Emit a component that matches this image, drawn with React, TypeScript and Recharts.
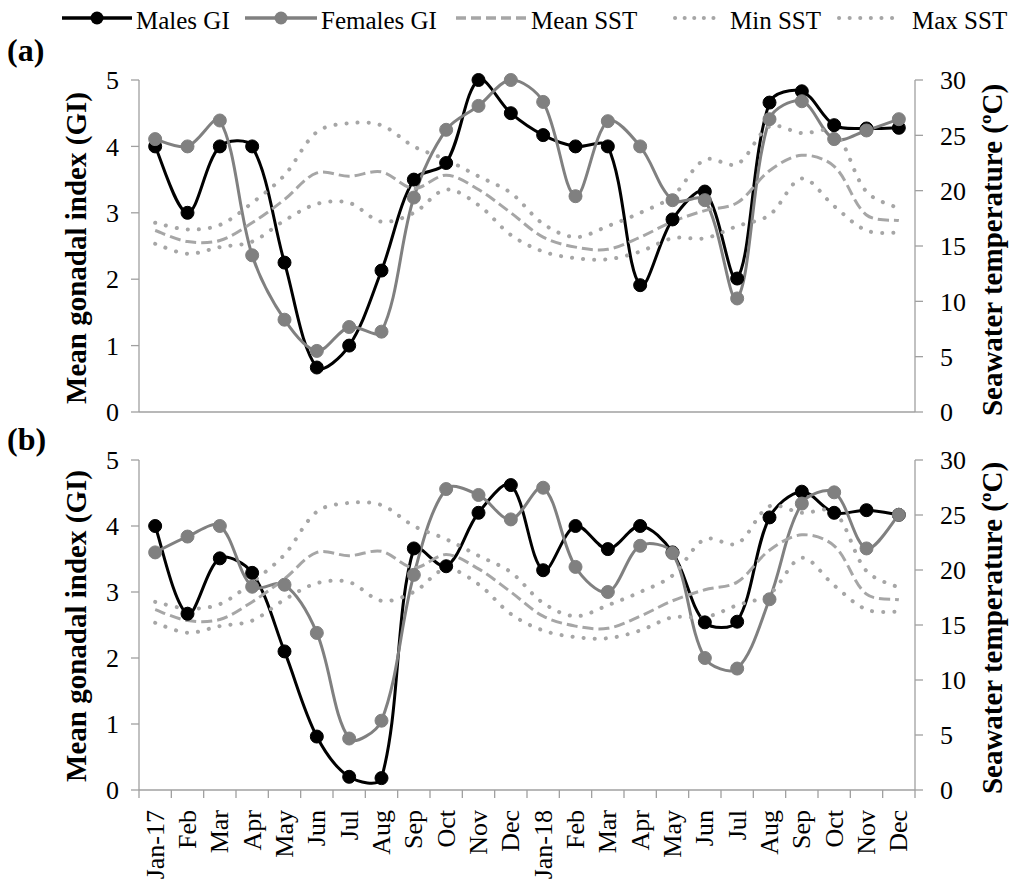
import { LineChart, Line, XAxis, YAxis } from 'recharts'

// month labels, Jan 2017 .. Dec 2018
const months = [
  'Jan-17', 'Feb', 'Mar', 'Apr', 'May', 'Jun', 'Jul', 'Aug', 'Sep', 'Oct', 'Nov', 'Dec',
  'Jan-18', 'Feb', 'Mar', 'Apr', 'May', 'Jun', 'Jul', 'Aug', 'Sep', 'Oct', 'Nov', 'Dec',
]

// panel (a)
const malesA = [4.0, 3.0, 4.0, 4.0, 2.25, 0.67, 1.0, 2.13, 3.5, 3.75, 5.0, 4.5, 4.17, 4.0, 4.0, 1.91, 2.9, 3.32, 2.01, 4.66, 4.83, 4.32, 4.27, 4.28]
const femalesA = [4.11, 4.0, 4.39, 2.36, 1.39, 0.92, 1.28, 1.21, 3.23, 4.25, 4.61, 5.0, 4.67, 3.25, 4.38, 4.0, 3.19, 3.19, 1.71, 4.41, 4.68, 4.11, 4.24, 4.41]

// panel (b)
const malesB = [4.0, 2.67, 3.51, 3.29, 2.1, 0.81, 0.2, 0.18, 3.66, 3.39, 4.2, 4.62, 3.33, 4.0, 3.65, 4.0, 3.6, 2.54, 2.55, 4.13, 4.52, 4.2, 4.24, 4.17]
const femalesB = [3.6, 3.84, 4.0, 3.08, 3.11, 2.38, 0.78, 1.05, 3.26, 4.56, 4.47, 4.1, 4.58, 3.38, 3.0, 3.7, 3.59, 2.0, 1.84, 2.89, 4.34, 4.51, 3.66, 4.17]

// sea surface temperature, same for both panels
const meanSst = [16.4, 15.4, 15.5, 17.1, 19.2, 21.6, 21.3, 21.7, 20.2, 21.4, 20.1, 18.0, 15.8, 14.9, 14.7, 15.8, 17.2, 18.2, 18.9, 21.8, 23.2, 22.2, 17.8, 17.3]
const minSst = [15.2, 14.3, 14.9, 15.4, 17.3, 18.8, 18.9, 17.2, 18.0, 20.1, 18.7, 16.0, 14.5, 13.9, 13.8, 14.5, 15.7, 15.7, 16.8, 17.8, 21.1, 18.6, 16.4, 16.2]
const maxSst = [17.1, 16.5, 16.9, 18.9, 21.4, 25.3, 26.1, 25.9, 24.0, 22.8, 21.3, 19.8, 17.0, 15.8, 16.8, 18.0, 19.5, 22.8, 22.4, 25.8, 25.2, 25.3, 19.9, 18.4]

const giTicks = [0, 1, 2, 3, 4, 5]
const sstTicks = [0, 5, 10, 15, 20, 25, 30]

const FONT = 'Liberation Serif, serif'
const AXIS = '#a0a0a0'
const GREY = '#808080'
const LIGHT = '#a6a6a6'

const W = 1019
const M_LEFT = 79
const M_RIGHT = 44
const Y_W = 60
const PLOT_W = W - M_LEFT - M_RIGHT - 2 * Y_W
const STEP = PLOT_W / months.length

const boundaries = months.map((_, i) => i - 0.5).concat([months.length - 0.5])

// Excel-like smoothed line: tangent at each point scaled by neighbouring chord lengths
function excelSmooth(context: any) {
  let pts: number[][] = []
  return {
    areaStart() {},
    areaEnd() {},
    lineStart() {
      pts = []
    },
    point(x: number, y: number) {
      pts.push([+x, +y])
    },
    lineEnd() {
      const n = pts.length
      if (!n) return
      const dist = (a: number[], b: number[]) => Math.hypot(b[0] - a[0], b[1] - a[1])
      // control handles per point: [in, out]
      const handles = pts.map((p, k) => {
        const prev = pts[Math.max(0, k - 1)]
        const next = pts[Math.min(n - 1, k + 1)]
        const tx = next[0] - prev[0]
        const ty = next[1] - prev[1]
        const dIn = dist(prev, p)
        const dOut = dist(p, next)
        const sum = dIn + dOut || 1
        const f = k === 0 || k === n - 1 ? 1 / 6 : 1 / 3
        const fin = k === 0 || k === n - 1 ? f : (f * dIn) / sum
        const fout = k === 0 || k === n - 1 ? f : (f * dOut) / sum
        return [
          [p[0] - tx * fin, p[1] - ty * fin],
          [p[0] + tx * fout, p[1] + ty * fout],
        ]
      })
      context.moveTo(pts[0][0], pts[0][1])
      for (let k = 0; k < n - 1; k++) {
        const c1 = handles[k][1]
        const c2 = handles[k + 1][0]
        context.bezierCurveTo(c1[0], c1[1], c2[0], c2[1], pts[k + 1][0], pts[k + 1][1])
      }
    },
  }
}

const MonthTick = ({ x, y, payload }: any) => {
  const idx = Math.round(payload.value + 0.5)
  if (idx < 0 || idx >= months.length) return <g />
  const cx = x + STEP / 2
  return (
    <text
      x={cx}
      y={y}
      transform={`rotate(-90 ${cx} ${y})`}
      textAnchor="end"
      dominantBaseline="central"
      fontSize={26}
      fontFamily={FONT}
      fill="#000"
    >
      {months[idx]}
    </text>
  )
}

interface PanelProps {
  males: number[]
  females: number[]
  top: number
  height: number
  xHeight: number
  bottom: number
  labels: boolean
}

function Panel({ males, females, top, height, xHeight, bottom, labels }: PanelProps) {
  const rows = months.map((m, i) => ({
    i,
    month: m,
    males: males[i],
    females: females[i],
    mean: meanSst[i],
    min: minSst[i],
    max: maxSst[i],
  }))
  const tickStyle = { fontSize: 26, fontFamily: FONT, fill: '#000' }
  return (
    <div style={{ position: 'absolute', left: 0, top }}>
      <LineChart width={W} height={height} data={rows} margin={{ top: 20, right: M_RIGHT, bottom, left: M_LEFT }}>
        <XAxis
          dataKey="i"
          type="number"
          domain={[-0.5, months.length - 0.5]}
          ticks={boundaries}
          interval={0}
          height={xHeight}
          axisLine={{ stroke: AXIS, strokeWidth: 1.3 }}
          tickLine={{ stroke: AXIS, strokeWidth: 1.3 }}
          tickSize={8}
          tickMargin={12}
          tick={labels ? <MonthTick /> : false}
        />
        <YAxis
          yAxisId="left"
          domain={[0, 5]}
          ticks={giTicks}
          interval={0}
          width={Y_W}
          axisLine={{ stroke: AXIS, strokeWidth: 1.3 }}
          tickLine={{ stroke: AXIS, strokeWidth: 1.3 }}
          tickSize={8}
          tickMargin={12}
          tick={tickStyle}
        />
        <YAxis
          yAxisId="right"
          orientation="right"
          domain={[0, 30]}
          ticks={sstTicks}
          interval={0}
          width={Y_W}
          axisLine={{ stroke: AXIS, strokeWidth: 1.3 }}
          tickLine={{ stroke: AXIS, strokeWidth: 1.3 }}
          tickSize={8}
          tickMargin={17}
          tick={tickStyle}
        />
        <Line
          yAxisId="left"
          dataKey="males"
          type={excelSmooth as any}
          stroke="#000"
          strokeWidth={3}
          dot={{ r: 6.5, fill: '#000', stroke: '#000', strokeWidth: 1 }}
          activeDot={false}
          isAnimationActive={false}
        />
        <Line
          yAxisId="left"
          dataKey="females"
          type={excelSmooth as any}
          stroke={GREY}
          strokeWidth={3}
          dot={{ r: 6.5, fill: GREY, stroke: GREY, strokeWidth: 1 }}
          activeDot={false}
          isAnimationActive={false}
        />
        <Line
          yAxisId="right"
          dataKey="mean"
          type={excelSmooth as any}
          stroke={LIGHT}
          strokeWidth={3}
          strokeDasharray="11 5"
          dot={false}
          activeDot={false}
          isAnimationActive={false}
        />
        <Line
          yAxisId="right"
          dataKey="min"
          type={excelSmooth as any}
          stroke={LIGHT}
          strokeWidth={4}
          strokeDasharray="0.1 11"
          strokeLinecap="round"
          dot={false}
          activeDot={false}
          isAnimationActive={false}
        />
        <Line
          yAxisId="right"
          dataKey="max"
          type={excelSmooth as any}
          stroke={LIGHT}
          strokeWidth={4}
          strokeDasharray="0.1 11"
          strokeLinecap="round"
          dot={false}
          activeDot={false}
          isAnimationActive={false}
        />
      </LineChart>
    </div>
  )
}

function Overlay() {
  const legendText = { fontSize: 25, fontFamily: FONT, fill: '#000' }
  const title = { fontSize: 29, fontFamily: FONT, fontWeight: 'bold' as const, fill: '#000', textAnchor: 'middle' as const }
  const panelLbl = { fontSize: 32, fontFamily: FONT, fontWeight: 'bold' as const, fill: '#000' }
  return (
    <svg width={W} height={891} style={{ position: 'absolute', left: 0, top: 0, pointerEvents: 'none' }}>
      {/* legend */}
      <line x1={62} x2={132} y1={18} y2={18} stroke="#000" strokeWidth={3.5} />
      <circle cx={97} cy={18} r={6.5} fill="#000" />
      <text x={136} y={29} {...legendText}>Males GI</text>
      <line x1={245} x2={317} y1={18} y2={18} stroke={GREY} strokeWidth={3.5} />
      <circle cx={281} cy={18} r={6.5} fill={GREY} />
      <text x={321} y={29} {...legendText}>Females GI</text>
      <line x1={456} x2={526} y1={18} y2={18} stroke={LIGHT} strokeWidth={3.5} strokeDasharray="10 5" />
      <text x={531} y={29} {...legendText}>Mean SST</text>
      <line x1={675} x2={722} y1={18} y2={18} stroke={LIGHT} strokeWidth={4} strokeDasharray="0.1 9.5" strokeLinecap="round" />
      <text x={730} y={29} {...legendText}>Min SST</text>
      <line x1={839} x2={902} y1={18} y2={18} stroke={LIGHT} strokeWidth={4} strokeDasharray="0.1 10.5" strokeLinecap="round" />
      <text x={912} y={29} {...legendText}>Max SST</text>

      {/* panel letters */}
      <text x={7} y={61} {...panelLbl}>(a)</text>
      <text x={7} y={450} {...panelLbl}>(b)</text>

      {/* axis titles */}
      <text x={86} y={248} transform="rotate(-90 86 248)" {...title}>Mean gonadal index (GI)</text>
      <text x={1002} y={250} transform="rotate(-90 1002 250)" {...title}>Seawater temperature (ºC)</text>
      <text x={86} y={626} transform="rotate(-90 86 626)" {...title}>Mean gonadal index (GI)</text>
      <text x={1002} y={628} transform="rotate(-90 1002 628)" {...title}>Seawater temperature (ºC)</text>
    </svg>
  )
}

export default function App() {
  return (
    <div style={{ position: 'absolute', left: 0, top: 0, width: W, height: 891, background: '#fff' }}>
      <Panel males={malesA} females={femalesA} top={60} height={380} xHeight={20} bottom={8} labels={false} />
      <Panel males={malesB} females={femalesB} top={440} height={451} xHeight={100} bottom={1} labels />
      <Overlay />
    </div>
  )
}
